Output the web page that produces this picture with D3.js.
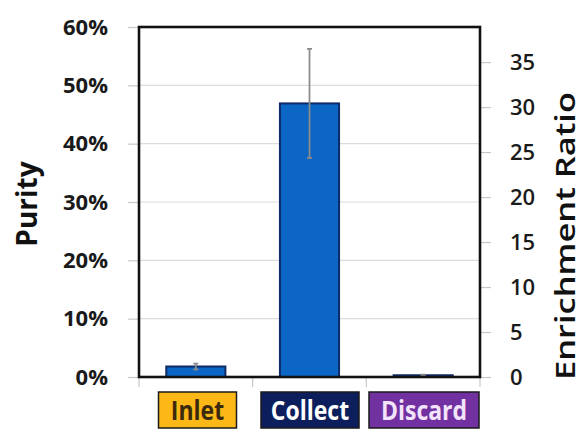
<!DOCTYPE html>
<html>
<head>
<meta charset="utf-8">
<script src="https://cdn.jsdelivr.net/npm/d3@7"></script>
<style>
  html, body { margin: 0; padding: 0; background: #fff; }
  svg { display: block; }
  text { font-family: "Open Sans", "Noto Sans", sans-serif; }
</style>
</head>
<body>
<svg id="chart" width="583" height="429"></svg>
<script>
// Sample stages and their measured purity (%) with error
const categories = ["Inlet", "Collect", "Discard"];
const purity = [1.8, 46.9, 0.3];
const purityErr = [0.5, 9.35, 0.1];

// Tick labels
const purityTicks = [0, 10, 20, 30, 40, 50, 60];
const ratioTicks = [0, 5, 10, 15, 20, 25, 30, 35];
const ratioMax = 38.9;

// Label box styling per stage
const boxFill = ["#fbb817", "#0c1f5c", "#7131a1"];
const boxText = ["#3b2a0c", "#ffffff", "#f3e3fb"];

const svg = d3.select("#chart");
const m = { left: 139, right: 480, top: 27, bottom: 377 };

const x = d3.scaleBand().domain(categories).range([m.left, m.right]).paddingInner(0).paddingOuter(0);
const y = d3.scaleLinear().domain([0, 60]).range([m.bottom, m.top]);
const yR = d3.scaleLinear().domain([0, ratioMax]).range([m.bottom, m.top]);

// Horizontal gridlines
svg.append("g").selectAll("line").data(purityTicks.filter(d => d > 0 && d < 60)).join("line")
  .attr("x1", m.left).attr("x2", m.right)
  .attr("y1", d => y(d)).attr("y2", d => y(d))
  .attr("stroke", "#dcdcdc").attr("stroke-width", 1.2);

// Left axis (purity)
const left = svg.append("g").attr("transform", `translate(${m.left},0)`)
  .call(d3.axisLeft(y).tickValues(purityTicks).tickFormat(d => d + "%").tickSize(11).tickPadding(20));
left.select(".domain").remove();
left.selectAll(".tick line").attr("stroke", "#c8c8c8").attr("stroke-width", 1.2);
left.selectAll(".tick text").attr("font-size", 22).attr("font-weight", "bold")
  .attr("font-family", null).attr("fill", "#1a1a1a");

// Right axis (enrichment ratio)
const right = svg.append("g").attr("transform", `translate(${m.right},0)`)
  .call(d3.axisRight(yR).tickValues(ratioTicks).tickSize(11).tickPadding(19));
right.select(".domain").remove();
right.selectAll(".tick line").attr("stroke", "#c8c8c8").attr("stroke-width", 1.2);
right.selectAll(".tick text").attr("font-size", 22).attr("font-weight", 600)
  .attr("font-family", null).attr("fill", "#1a1a1a");

// Category boundary ticks below the plot
const bounds = [0, 1, 2, 3].map(i => m.left + i * x.step());
svg.append("g").selectAll("line").data(bounds).join("line")
  .attr("x1", d => d).attr("x2", d => d)
  .attr("y1", m.bottom).attr("y2", m.bottom + 10)
  .attr("stroke", "#c8c8c8").attr("stroke-width", 1.2);

// Bars
const barW = x.bandwidth() * 0.52;
svg.append("g").selectAll("rect").data(purity).join("rect")
  .attr("x", (d, i) => x(categories[i]) + (x.bandwidth() - barW) / 2)
  .attr("width", barW)
  .attr("y", d => y(d))
  .attr("height", d => y(0) - y(d))
  .attr("fill", "#0b66c6")
  .attr("stroke", "#0f2a66").attr("stroke-width", 2);

// Error bars
const eb = svg.append("g").attr("stroke", "#8c8c8c").attr("stroke-width", 1.8);
purity.forEach((v, i) => {
  const cx = x(categories[i]) + x.bandwidth() / 2;
  const e = purityErr[i];
  eb.append("line").attr("x1", cx).attr("x2", cx).attr("y1", y(v + e)).attr("y2", y(v - e));
  [v + e, v - e].forEach(t => eb.append("line")
    .attr("x1", cx - 2.5).attr("x2", cx + 2.5).attr("y1", y(t)).attr("y2", y(t)));
});

// Plot frame
svg.append("rect")
  .attr("x", m.left).attr("y", m.top)
  .attr("width", m.right - m.left).attr("height", m.bottom - m.top)
  .attr("fill", "none").attr("stroke", "#111").attr("stroke-width", 2.6);

// Category labels in coloured boxes
const boxes = [[158.5, 236.5], [261, 359], [369, 479]];
const lab = svg.append("g");
categories.forEach((c, i) => {
  const [x0, x1] = boxes[i];
  lab.append("rect").attr("x", x0).attr("y", 392).attr("width", x1 - x0).attr("height", 36)
    .attr("fill", boxFill[i]).attr("stroke", "#1a1a1a").attr("stroke-width", 1.5);
  lab.append("text")
    .attr("transform", `translate(${(x0 + x1) / 2},420) scale(1,1.2)`)
    .attr("text-anchor", "middle").attr("font-weight", "bold")
    .attr("font-size", 23).attr("fill", boxText[i]).text(c);
});

// Axis titles
svg.append("text").attr("transform", "translate(37,204) rotate(-90)")
  .attr("text-anchor", "middle").attr("font-weight", "bold")
  .attr("font-size", 28).attr("fill", "#111").text("Purity");
svg.append("text").attr("transform", "translate(575,236) rotate(-90)")
  .attr("text-anchor", "middle").attr("font-weight", 600)
  .attr("font-size", 27).attr("textLength", 288).attr("lengthAdjust", "spacingAndGlyphs")
  .attr("fill", "#111").text("Enrichment Ratio");
</script>
</body>
</html>
